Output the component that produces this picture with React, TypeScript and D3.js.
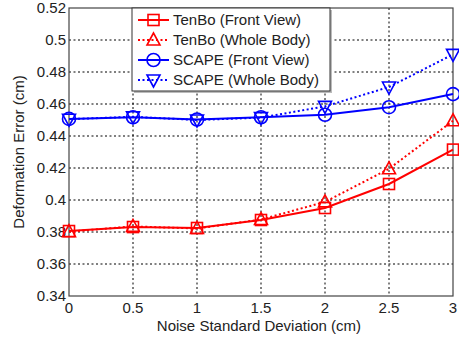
import { useEffect, useRef } from 'react';
import * as d3 from 'd3';

const noise = [0, 0.5, 1, 1.5, 2, 2.5, 3];
const tenboFront = [0.3806, 0.3831, 0.3825, 0.3875, 0.395, 0.41, 0.4315];
const tenboWhole = [0.3802, 0.3835, 0.3822, 0.3878, 0.3988, 0.4195, 0.4495];
const scapeFront = [0.4507, 0.4517, 0.4503, 0.4517, 0.4533, 0.4580, 0.4662];
const scapeWhole = [0.4505, 0.4520, 0.4500, 0.4515, 0.4585, 0.4706, 0.4910];
const xTicks = [0, 0.5, 1, 1.5, 2, 2.5, 3];
const yTicks = [0.34, 0.36, 0.38, 0.4, 0.42, 0.44, 0.46, 0.48, 0.5, 0.52];

const series = [
  { name: 'TenBo (Front View)', values: tenboFront, color: '#ff0000', dash: null, marker: 'square' },
  { name: 'TenBo (Whole Body)', values: tenboWhole, color: '#ff0000', dash: '2,2.5', marker: 'triangle' },
  { name: 'SCAPE (Front View)', values: scapeFront, color: '#0000ff', dash: null, marker: 'circle' },
  { name: 'SCAPE (Whole Body)', values: scapeWhole, color: '#0000ff', dash: '2,2.5', marker: 'triangleDown' },
];

function drawMarker(g: any, type: string, cx: number, cy: number, color: string) {
  const s = 5.5;
  if (type === 'square') {
    g.append('rect').attr('x', cx - s).attr('y', cy - s).attr('width', 2 * s).attr('height', 2 * s)
      .attr('fill', 'none').attr('stroke', color).attr('stroke-width', 1.6);
  } else if (type === 'circle') {
    g.append('circle').attr('cx', cx).attr('cy', cy).attr('r', 6.5)
      .attr('fill', 'none').attr('stroke', color).attr('stroke-width', 1.6);
  } else {
    const dir = type === 'triangle' ? 1 : -1;
    const pts = [[cx, cy - dir * 7], [cx - 6.5, cy + dir * 5], [cx + 6.5, cy + dir * 5]];
    g.append('path').attr('d', d3.line()(pts as any) + 'Z')
      .attr('fill', 'none').attr('stroke', color).attr('stroke-width', 1.6);
  }
}

export default function App() {
  const svgRef = useRef<SVGSVGElement>(null);

  useEffect(() => {
    const svg = d3.select(svgRef.current);
    svg.selectAll('*').remove();

    const width = 459;
    const height = 339;
    const margin = { top: 8, right: 6, bottom: 43, left: 69 };
    const w = width - margin.left - margin.right;
    const h = height - margin.top - margin.bottom;
    const font = 'Arial, "Liberation Sans", Helvetica, sans-serif';

    svg.attr('width', width).attr('height', height);
    svg.append('rect').attr('width', width).attr('height', height).attr('fill', '#fff');

    const g = svg.append('g').attr('transform', `translate(${margin.left},${margin.top})`);

    const x = d3.scaleLinear().domain([0, 3]).range([0, w]);
    const y = d3.scaleLinear().domain([0.34, 0.52]).range([h, 0]);

    // Grid lines
    g.append('g').selectAll('line').data(yTicks.slice(1, -1)).join('line')
      .attr('x1', 0).attr('x2', w)
      .attr('y1', d => y(d)).attr('y2', d => y(d))
      .attr('stroke', '#000').attr('stroke-width', 1).attr('stroke-dasharray', '2,2.5');
    g.append('g').selectAll('line').data(xTicks.slice(1, -1)).join('line')
      .attr('y1', 0).attr('y2', h)
      .attr('x1', d => x(d)).attr('x2', d => x(d))
      .attr('stroke', '#000').attr('stroke-width', 1).attr('stroke-dasharray', '2,2.5');

    // Box
    g.append('rect').attr('width', w).attr('height', h)
      .attr('fill', 'none').attr('stroke', '#444').attr('stroke-width', 1.2);

    // Ticks
    g.append('g').selectAll('text').data(yTicks).join('text')
      .attr('x', -3).attr('y', d => y(d)).attr('dy', '0.36em')
      .attr('text-anchor', 'end').attr('font-family', font).attr('font-size', 15).attr('fill', '#222')
      .text(d => String(+d.toFixed(2)));
    g.append('g').selectAll('text').data(xTicks).join('text')
      .attr('x', d => x(d)).attr('y', h + 17)
      .attr('text-anchor', 'middle').attr('font-family', font).attr('font-size', 15).attr('fill', '#222')
      .text(d => String(d));

    // Axis labels
    svg.append('text').attr('x', margin.left + w / 2 - 2).attr('y', 331)
      .attr('text-anchor', 'middle').attr('font-family', font).attr('font-size', 15).attr('fill', '#222')
      .text('Noise Standard Deviation (cm)');
    svg.append('text').attr('transform', `translate(24,${margin.top + h / 2}) rotate(-90)`)
      .attr('text-anchor', 'middle').attr('font-family', font).attr('font-size', 15).attr('fill', '#222')
      .text('Deformation Error (cm)');

    // Lines
    const line = d3.line<number>().x((_, i) => x(noise[i])).y(d => y(d));
    series.forEach(s => {
      g.append('path').datum(s.values)
        .attr('fill', 'none').attr('stroke', s.color).attr('stroke-width', 2)
        .attr('stroke-dasharray', s.dash)
        .attr('d', line);
      s.values.forEach((v, i) => drawMarker(g, s.marker, x(noise[i]), y(v), s.color));
    });

    // Legend
    const lg = svg.append('g').attr('transform', 'translate(132,8)');
    lg.append('rect').attr('x', 2).attr('y', 2).attr('width', 198).attr('height', 83).attr('fill', '#bbb');
    lg.append('rect').attr('width', 198).attr('height', 83)
      .attr('fill', '#fff').attr('stroke', '#333').attr('stroke-width', 1);
    series.forEach((s, i) => {
      const ly = 12 + i * 20;
      lg.append('line').attr('x1', 6).attr('x2', 37).attr('y1', ly).attr('y2', ly)
        .attr('stroke', s.color).attr('stroke-width', 2).attr('stroke-dasharray', s.dash);
      drawMarker(lg, s.marker, 21.5, ly, s.color);
      lg.append('text').attr('x', 41).attr('y', ly).attr('dy', '0.36em')
        .attr('font-family', font).attr('font-size', 15).attr('fill', '#222').text(s.name);
    });
  }, []);

  return <svg ref={svgRef} style={{ position: 'absolute', left: 0, top: 0 }} />;
}
